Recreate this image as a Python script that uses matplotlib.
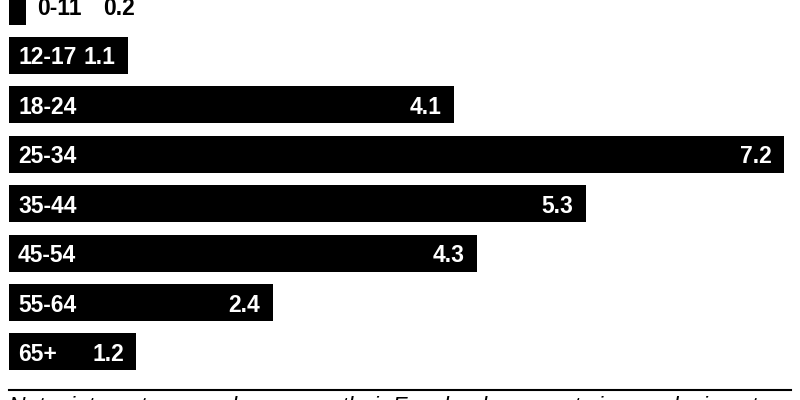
import matplotlib
matplotlib.use('Agg')
import matplotlib.pyplot as plt
from matplotlib.lines import Line2D

ages = ['0-11', '12-17', '18-24', '25-34', '35-44', '45-54', '55-64', '65+']
# millions (labels show one decimal)
users = [0.16, 1.10, 4.12, 7.18, 5.34, 4.33, 2.44, 1.18]
note = 'Note: internet users who access their Facebook account via any device at'

plt.rcParams['font.family'] = ['Liberation Sans', 'DejaVu Sans']

fig = plt.figure(figsize=(8, 4), dpi=100)
ax = fig.add_axes([9/800, 0, 782/800, 1])

pos = list(range(len(ages)))
ax.barh(pos, users, height=0.75, color='black')
ax.set_xlim(0, 782/108)
ax.set_ylim((400 - 6.1)/49.4, -6.1/49.4)
ax.axis('off')

fs = 16.5
for i, (lab, v) in enumerate(zip(ages, users)):
    if v < 0.5:
        # bar too short: put the text after it in black
        ax.annotate(lab, (v, i), xytext=(7.5, 0), textcoords='offset points',
                    ha='left', va='center_baseline', color='black',
                    fontsize=fs, fontweight='bold')
        ax.annotate('%.1f' % v, (1.28, i), xytext=(-9, 0), textcoords='offset points',
                    ha='right', va='center_baseline', color='black',
                    fontsize=fs, fontweight='bold')
    else:
        ax.annotate(lab, (0, i), xytext=(6.5, 0), textcoords='offset points',
                    ha='left', va='center_baseline', color='white',
                    fontsize=fs, fontweight='bold')
        ax.annotate('%.1f' % v, (v, i), xytext=(-9, 0), textcoords='offset points',
                    ha='right', va='center_baseline', color='white',
                    fontsize=fs, fontweight='bold')

fig.add_artist(Line2D([9/800, 791/800], [1 - 390/400, 1 - 390/400],
                      color='black', linewidth=1.5))
fig.text(9/800, 1 - 396/400, note, ha='left', va='top', fontsize=16.5,
         style='italic', color='black')

fig.savefig('out.png', dpi=100)
